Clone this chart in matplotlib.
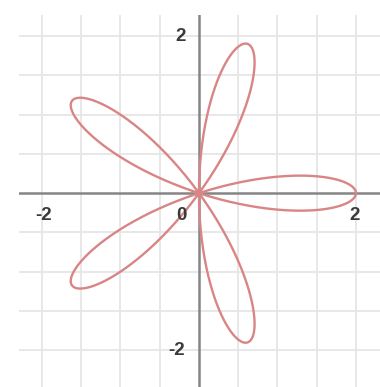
import numpy as np
import matplotlib
matplotlib.use("Agg")
import matplotlib.pyplot as plt

# rose curve r = a*cos(k*theta)
amplitude = 2.0
petals = 5
grid_step = 0.5
tick_values = [-2, 2]

theta = np.linspace(0, np.pi, 2000)
r = amplitude * np.cos(petals * theta)
x = r * np.cos(theta)
y = r * np.sin(theta)

fig = plt.figure(figsize=(3.80, 3.87), dpi=100)
ax = fig.add_axes([19 / 380, 0, 361 / 380, 372 / 387])
ax.set_xlim(-2.293, 2.306)
ax.set_ylim(-2.47, 2.27)
ax.set_aspect("auto")
for s in ax.spines.values():
    s.set_visible(False)
ax.set_xticks([])
ax.set_yticks([])

# light grid
for g in np.arange(-4, 5) * grid_step:
    if g != 0:
        ax.axvline(g, color="#e6e6e6", lw=1.3, zorder=0)
        ax.axhline(g, color="#e6e6e6", lw=1.3, zorder=0)

# axes through the origin
ax.axhline(0, color="#858585", lw=1.8, zorder=1)
ax.axvline(0, color="#858585", lw=1.8, zorder=1)

ax.plot(x, y, color="#d98585", lw=1.7, zorder=2, solid_capstyle="round")

lab = dict(fontsize=13.5, fontweight="bold", color="#3a3a3a",
           family="Liberation Sans", ha="center", va="center", zorder=3)
for v in tick_values:
    ax.text(v - 0.02 if v > 0 else v + 0.02, -0.29, str(v), **lab)
ax.text(-0.22, -0.29, "0", **lab)
ax.text(-0.24, 2.0, "2", **lab)
ax.text(-0.28, -2.0, "-2", **lab)

fig.savefig("out.png", dpi=100)
